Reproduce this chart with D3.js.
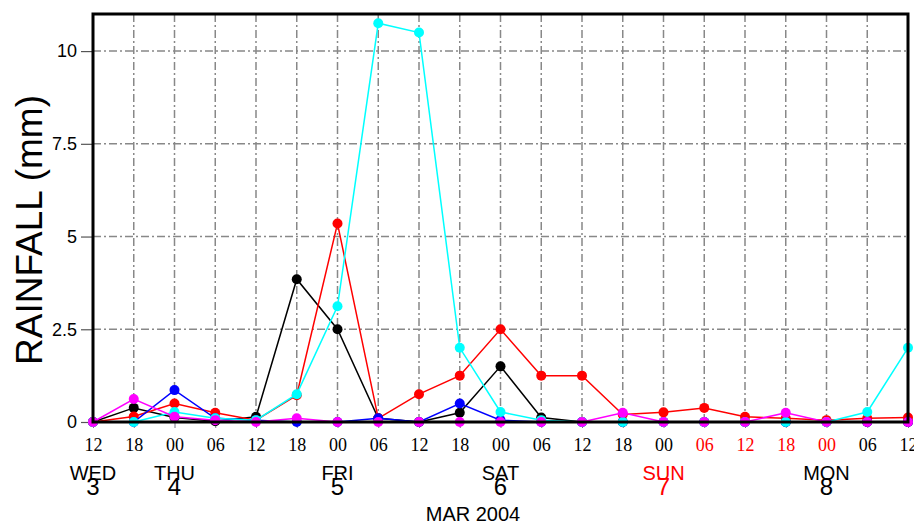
<!DOCTYPE html>
<html lang="en">
<head>
<meta charset="utf-8">
<script src="https://d3js.org/d3.v7.min.js"></script>
<style type="text/css">
body {
	margin: 0;
	background-color: white;
}
.grid line {
	stroke: #888;
	stroke-width: 1.5;
	stroke-dasharray: 8,3,2,3;
}
.series path {
	fill: none;
	stroke-width: 1.5;
}
</style>
</head>
<body>
<svg id="chart" width="914" height="524"></svg>
<script type="text/javascript">

// 6-hourly steps from WED 3 12Z to MON 8 12Z
var hourLabels = ["12","18","00","06","12","18","00","06","12","18","00","06","12","18","00","06","12","18","00","06","12"];
var redLabels = [15, 16, 17, 18];   // label indexes drawn in red
var dayNames = ["WED","THU","FRI","SAT","SUN","MON"];
var dayNums = ["3","4","5","6","7","8"];
var dayIndex = [0, 2, 6, 10, 14, 18];
var dayColors = ["black","black","black","black","red","black"];
var yTicks = [0, 2.5, 5, 7.5, 10];

var blackSeries   = [0, 0.38, 0.12, 0.02, 0.14, 3.85, 2.5, 0.1, 0, 0.25, 1.5, 0.12, 0, 0, 0, 0, 0, 0, 0, 0, 0];
var redSeries     = [0, 0.15, 0.5, 0.25, 0.05, 0.72, 5.35, 0.1, 0.75, 1.25, 2.5, 1.25, 1.25, 0.2, 0.26, 0.38, 0.14, 0.1, 0.05, 0.1, 0.12];
var blueSeries    = [0, 0, 0.86, 0.1, 0.05, 0, 0, 0.1, 0, 0.5, 0.05, 0, 0, 0, 0, 0, 0, 0, 0, 0, 0];
var cyanSeries    = [0, 0, 0.27, 0.1, 0.05, 0.75, 3.12, 10.75, 10.5, 2.0, 0.27, 0.05, 0, 0, 0, 0, 0, 0, 0, 0.27, 2.0];
var magentaSeries = [0, 0.62, 0.14, 0.05, 0, 0.1, 0, 0, 0, 0, 0, 0, 0, 0.25, 0, 0, 0, 0.25, 0, 0, 0];

var seriesList = [
	{color: "black", values: blackSeries},
	{color: "red", values: redSeries},
	{color: "blue", values: blueSeries},
	{color: "cyan", values: cyanSeries},
	{color: "magenta", values: magentaSeries}
];

var margin = {left: 93, right: 6, top: 14, bottom: 102};
var width = 914, height = 524;

var svg = d3.select("#chart");

var x = d3.scaleLinear()
	.domain([0, hourLabels.length - 1])
	.range([margin.left, width - margin.right]);

var y = d3.scaleLinear()
	.domain([0, 11])
	.range([height - margin.bottom, margin.top]);

// grid
var grid = svg.append("g").attr("class", "grid");
grid.selectAll("line.v")
	.data(d3.range(1, hourLabels.length - 1))
	.join("line")
	.attr("class", "v")
	.attr("x1", d => x(d)).attr("x2", d => x(d))
	.attr("y1", y(0)).attr("y2", y(11));
grid.selectAll("line.h")
	.data(yTicks.slice(1))
	.join("line")
	.attr("class", "h")
	.attr("x1", x(0)).attr("x2", x(20))
	.attr("y1", d => y(d)).attr("y2", d => y(d));

// y axis
var yAxis = svg.append("g")
	.attr("transform", "translate(" + margin.left + ",0)")
	.call(d3.axisLeft(y).tickValues(yTicks).tickSize(12).tickPadding(4)
		.tickFormat(d => d3.format("~g")(d)));
yAxis.select(".domain").remove();
yAxis.selectAll(".tick line").attr("stroke", "#555").attr("stroke-width", 1.2);
yAxis.selectAll(".tick text")
	.attr("font-family", "Liberation Sans, Arial, sans-serif")
	.attr("font-size", 18)
	.attr("fill", "black");

// x axis
var xAxis = svg.append("g")
	.attr("transform", "translate(0," + y(0) + ")")
	.call(d3.axisBottom(x).tickValues(d3.range(hourLabels.length)).tickSize(6).tickPadding(10)
		.tickFormat(i => hourLabels[i]));
xAxis.select(".domain").remove();
xAxis.selectAll(".tick line").attr("stroke", "#778").attr("stroke-width", 1);
xAxis.selectAll(".tick text")
	.attr("font-family", "Liberation Serif, Times New Roman, serif")
	.attr("font-size", 18)
	.attr("fill", i => redLabels.indexOf(i) >= 0 ? "red" : "black");

// day labels
var days = svg.append("g").attr("font-family", "Liberation Sans, Arial, sans-serif")
	.attr("text-anchor", "middle");
days.selectAll("text.name")
	.data(dayNames)
	.join("text")
	.attr("class", "name")
	.attr("x", (d, i) => x(dayIndex[i]))
	.attr("y", 480)
	.attr("font-size", 20)
	.attr("fill", (d, i) => dayColors[i])
	.text(d => d);
days.selectAll("text.num")
	.data(dayNums)
	.join("text")
	.attr("class", "num")
	.attr("x", (d, i) => x(dayIndex[i]))
	.attr("y", 495)
	.attr("font-size", 24)
	.attr("fill", (d, i) => dayColors[i])
	.text(d => d);

svg.append("text")
	.attr("x", 473).attr("y", 521)
	.attr("text-anchor", "middle")
	.attr("font-family", "Liberation Sans, Arial, sans-serif")
	.attr("font-size", 20)
	.text("MAR 2004");

svg.append("text")
	.attr("transform", "translate(42,230) rotate(-90)")
	.attr("text-anchor", "middle")
	.attr("font-family", "Liberation Sans, Arial, sans-serif")
	.attr("font-size", 37)
	.text("RAINFALL (mm)");

// series
var line = d3.line()
	.x((d, i) => x(i))
	.y(d => y(d));

var groups = svg.selectAll("g.series")
	.data(seriesList)
	.join("g")
	.attr("class", "series");
groups.append("path")
	.attr("d", d => line(d.values))
	.attr("stroke", d => d.color);
groups.each(function(s) {
	d3.select(this).selectAll("circle")
		.data(s.values)
		.join("circle")
		.attr("cx", (d, i) => x(i))
		.attr("cy", d => y(d))
		.attr("r", 5)
		.attr("fill", s.color);
});

// frame
svg.append("path")
	.attr("d", "M" + x(0) + "," + y(0) + "V" + y(11) + "H" + x(20) + "V" + y(0) + "Z")
	.attr("fill", "none")
	.attr("stroke", "black")
	.attr("stroke-width", 3);

</script>
</body>
</html>
